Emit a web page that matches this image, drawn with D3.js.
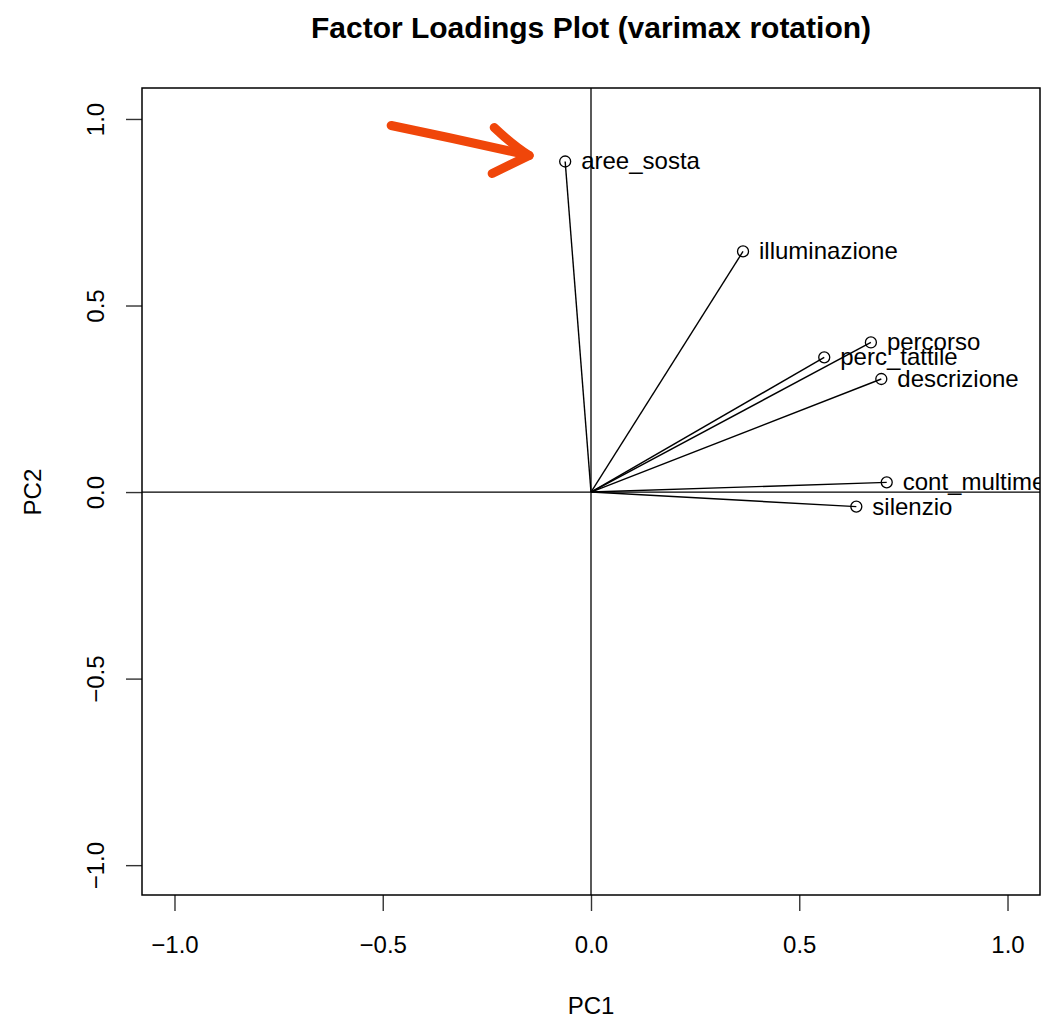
<!DOCTYPE html>
<html>
<head>
<meta charset="utf-8">
<script src="https://cdn.jsdelivr.net/npm/d3@7"></script>
<style>
  html, body { margin: 0; padding: 0; background: #fff; }
  svg { display: block; font-family: "Liberation Sans", Arial, Helvetica, sans-serif; }
</style>
</head>
<body>
<div id="chart"></div>
<script>
// loadings (varimax rotation)
var variables = ["aree_sosta", "illuminazione", "percorso", "perc_tattile", "descrizione", "cont_multimedia", "silenzio"];
var pc1 = [-0.062, 0.365, 0.672, 0.560, 0.697, 0.710, 0.637];
var pc2 = [0.886, 0.645, 0.401, 0.361, 0.303, 0.026, -0.039];
var tickValues = [-1.0, -0.5, 0.0, 0.5, 1.0];

var width = 1041, height = 1018;
var margin = {top: 88, right: 1, bottom: 123, left: 142};

var svg = d3.select("#chart").append("svg")
    .attr("width", width)
    .attr("height", height);

var x = d3.scaleLinear()
    .domain([-1.078, 1.078])
    .range([margin.left, width - margin.right]);

var y = d3.scaleLinear()
    .domain([-1.08, 1.083])
    .range([height - margin.bottom, margin.top]);

var fmt = d3.format(".1f");

/* title */
svg.append("text")
    .attr("x", x(0))
    .attr("y", 38)
    .attr("text-anchor", "middle")
    .style("font-size", "30px")
    .style("font-weight", "bold")
    .text("Factor Loadings Plot (varimax rotation)");

/* clip the data layer to the plot box */
svg.append("clipPath").attr("id", "plotclip")
  .append("rect")
    .attr("x", x.range()[0])
    .attr("y", y.range()[1])
    .attr("width", x.range()[1] - x.range()[0])
    .attr("height", y.range()[0] - y.range()[1]);

var g = svg.append("g").attr("clip-path", "url(#plotclip)");

// reference lines through the origin
g.append("line")
    .attr("x1", x.range()[0]).attr("x2", x.range()[1])
    .attr("y1", y(0)).attr("y2", y(0))
    .attr("stroke", "#000").attr("stroke-width", 1.3);
g.append("line")
    .attr("x1", x(0)).attr("x2", x(0))
    .attr("y1", y.range()[0]).attr("y2", y.range()[1])
    .attr("stroke", "#000").attr("stroke-width", 1.3);

var data = variables.map(function(v, i) {
    return {name: v, pc1: pc1[i], pc2: pc2[i]};
});

// segments from the origin
g.selectAll("line.seg")
    .data(data)
    .enter().append("line")
    .attr("class", "seg")
    .attr("x1", x(0)).attr("y1", y(0))
    .attr("x2", function(d) { return x(d.pc1); })
    .attr("y2", function(d) { return y(d.pc2); })
    .attr("stroke", "#000")
    .attr("stroke-width", 1.4);

g.selectAll("circle")
    .data(data)
    .enter().append("circle")
    .attr("cx", function(d) { return x(d.pc1); })
    .attr("cy", function(d) { return y(d.pc2); })
    .attr("r", 5.5)
    .attr("fill", "none")
    .attr("stroke", "#000")
    .attr("stroke-width", 1.3);

g.selectAll("text.lab")
    .data(data)
    .enter().append("text")
    .attr("class", "lab")
    .attr("x", function(d) { return x(d.pc1) + 16; })
    .attr("y", function(d) { return y(d.pc2); })
    .attr("dy", "0.33em")
    .style("font-size", "24px")
    .text(function(d) { return d.name; });

/* axes */
var xAxis = svg.append("g")
    .attr("transform", "translate(0," + y.range()[0] + ")")
    .call(d3.axisBottom(x).tickValues(tickValues).tickSize(16).tickFormat(fmt));
xAxis.select(".domain").remove();
xAxis.selectAll(".tick line").attr("stroke", "#333").attr("stroke-width", 1.4);
xAxis.selectAll(".tick text")
    .attr("y", 58).attr("dy", 0)
    .attr("fill", "#000")
    .style("font-size", "24px")
    .style("font-family", "'Liberation Sans', Arial, sans-serif");

var yAxis = svg.append("g")
    .attr("transform", "translate(" + x.range()[0] + ",0)")
    .call(d3.axisLeft(y).tickValues(tickValues).tickSize(16).tickFormat(fmt));
yAxis.select(".domain").remove();
yAxis.selectAll(".tick line").attr("stroke", "#333").attr("stroke-width", 1.4);
yAxis.selectAll(".tick text")
    .attr("transform", "rotate(-90)")
    .attr("x", 0).attr("y", -38).attr("dy", 0)
    .attr("text-anchor", "middle")
    .attr("fill", "#000")
    .style("font-size", "24px")
    .style("font-family", "'Liberation Sans', Arial, sans-serif");

// box
svg.append("rect")
    .attr("x", x.range()[0])
    .attr("y", y.range()[1])
    .attr("width", x.range()[1] - x.range()[0])
    .attr("height", y.range()[0] - y.range()[1])
    .attr("fill", "none")
    .attr("stroke", "#000")
    .attr("stroke-width", 1.5);

/* axis titles */
svg.append("text")
    .attr("x", x(0))
    .attr("y", 1014)
    .attr("text-anchor", "middle")
    .style("font-size", "24px")
    .text("PC1");

svg.append("text")
    .attr("transform", "translate(41," + y(0) + ") rotate(-90)")
    .attr("text-anchor", "middle")
    .style("font-size", "24px")
    .text("PC2");

/* hand-drawn arrow pointing at aree_sosta */
var tip = [x(pc1[0]) - 36, y(pc2[0]) - 6];
var arrow = svg.append("g")
    .attr("fill", "none")
    .attr("stroke", "#F0460A")
    .attr("stroke-width", 9)
    .attr("stroke-linecap", "round")
    .attr("stroke-linejoin", "round");
arrow.append("path")
    .attr("d", "M" + (tip[0] - 138) + "," + (tip[1] - 30) +
               " Q" + (tip[0] - 70) + "," + (tip[1] - 16) + " " + tip[0] + "," + tip[1]);
arrow.append("path")
    .attr("d", "M" + (tip[0] - 35) + "," + (tip[1] - 28) +
               " Q" + (tip[0] - 16) + "," + (tip[1] - 10) + " " + tip[0] + "," + tip[1] +
               " L" + (tip[0] - 37) + "," + (tip[1] + 18));
</script>
</body>
</html>
